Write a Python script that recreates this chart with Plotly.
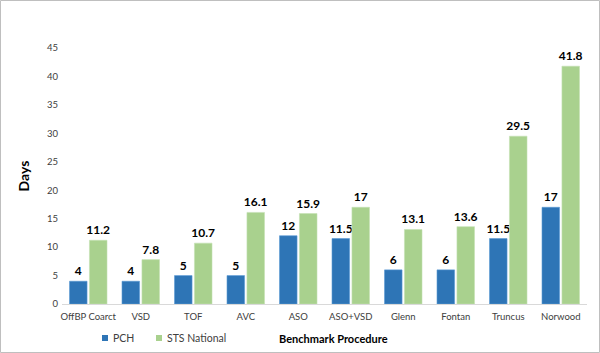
import plotly.graph_objects as go

categories = ["OffBP Coarct", "VSD", "TOF", "AVC", "ASO", "ASO+VSD", "Glenn", "Fontan", "Truncus", "Norwood"]
pch = [4, 4, 5, 5, 12, 11.5, 6, 6, 11.5, 17]
sts = [11.2, 7.8, 10.7, 16.1, 15.9, 17, 13.1, 13.6, 29.5, 41.8]
y_ticks = [0, 5, 10, 15, 20, 25, 30, 35, 40, 45]
series_names = ["PCH", "STS National"]
series_colors = ["#2E75B6", "#A9D18E"]

FONT = "Lato, 'Open Sans', sans-serif"

fig = go.Figure()
for name, vals, col, lc in [(series_names[0], pch, series_colors[0], "#5B9BD5"),
                            (series_names[1], sts, series_colors[1], "#C5E0B4")]:
    fig.add_trace(go.Bar(
        name=name, x=categories, y=vals,
        marker=dict(color=col, line=dict(color=lc, width=0.6)),
        text=[f"{v:g}" for v in vals], textposition="outside",
        textfont=dict(family=FONT, size=12, color="#000000", weight="bold"),
        cliponaxis=False, showlegend=False,
    ))

L, R, T, B = 62, 13, 48, 49
pw, ph = 600 - L - R, 353 - T - B

def px(x):
    return (x - L) / pw

def py(y):
    return (304 - y) / ph

shapes = [dict(type="rect", xref="paper", yref="paper",
               x0=px(0.5), x1=px(599.5), y0=py(352.5), y1=py(0.5),
               line=dict(color="#BFBFBF", width=1), fillcolor="rgba(0,0,0,0)")]
annotations = [dict(text="<b>Benchmark Procedure</b>", xref="paper", yref="paper",
                    x=px(333), y=py(338), xanchor="center", yanchor="middle",
                    showarrow=False, font=dict(family=FONT, size=11, color="#000000"))]
# legend
leg_x = [102, 156]
for lx, name, col in zip(leg_x, series_names, series_colors):
    shapes.append(dict(type="rect", xref="paper", yref="paper",
                       x0=px(lx), x1=px(lx + 6), y0=py(341), y1=py(335),
                       line=dict(width=0), fillcolor=col))
    annotations.append(dict(text=name, xref="paper", yref="paper",
                            x=px(lx + 9), y=py(338), xanchor="left", yanchor="middle",
                            showarrow=False, font=dict(family=FONT, size=10.5, color="#404040")))

fig.update_layout(
    width=600, height=353,
    margin=dict(l=L, r=R, t=T, b=B),
    paper_bgcolor="white", plot_bgcolor="white",
    barmode="group", bargap=0.24, bargroupgap=0.12,
    font=dict(family=FONT, size=9, color="#404040"),
    showlegend=False,
    uniformtext=dict(minsize=12, mode="show"),
    xaxis=dict(showline=True, linecolor="#D9D9D9", linewidth=1, ticks="",
               tickfont=dict(family=FONT, size=9.5, color="#404040"),
               ticklabelstandoff=4,
               showgrid=False, zeroline=False),
    yaxis=dict(range=[0, 45], tickvals=y_ticks, showgrid=False, zeroline=False,
               showline=False, ticks="",
               tickfont=dict(family=FONT, size=9.5, color="#404040"),
               ticklabelstandoff=3,
               title=dict(text="<b>Days</b>", font=dict(family=FONT, size=14, color="#000000"),
                          standoff=14)),
    annotations=annotations,
    shapes=shapes,
)

fig.write_html("out.html")
